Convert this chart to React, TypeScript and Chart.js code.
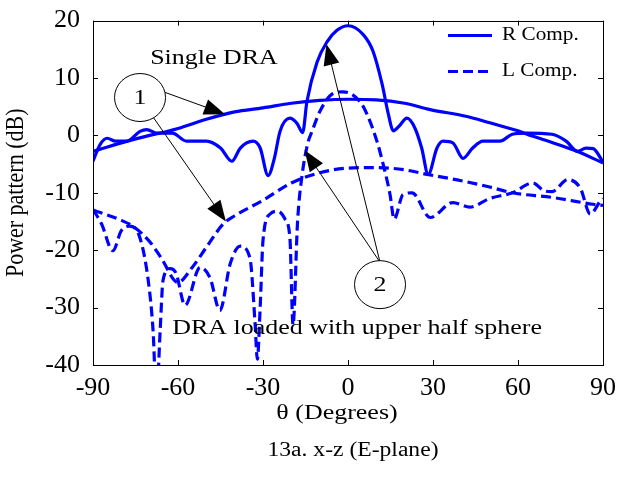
import React, { useEffect, useRef } from 'react';
import { Chart, registerables } from 'chart.js';

Chart.register(...registerables);

// ---- data ----
const xTickValues = [-90, -60, -30, 0, 30, 60, 90];
const yTickValues = [-40, -30, -20, -10, 0, 10, 20];

const singleRAngles = [-90, -80, -70, -64.6, -60, -50, -43.4, -40, -30, -20, -10, 0, 10, 20, 29, 42, 50, 60, 65, 70, 80, 90];
const singleRValues = [-2.8, -1.3, 0, 0.6, 1.2, 2.8, 3.7, 4.1, 4.8, 5.6, 6.1, 6.3, 6.2, 5.6, 4.5, 3.3, 2.2, 0.8, -0.1, -0.9, -2.6, -4.8];

const singleLAngles = [-90, -80, -76, -70, -66, -60, -55, -50, -44, -40, -30, -20, -10, 0, 10, 20, 28, 40, 50, 58, 72, 86.5, 90];
const singleLValues = [-13, -14.8, -15.8, -18.5, -21.3, -25.6, -23, -19.5, -15.4, -14, -11.3, -8.3, -6.5, -5.7, -5.6, -6, -6.8, -7.9, -9, -10, -10.8, -12, -12.2];

const loadedRAngles = [-90, -87.5, -85, -82, -78, -73.4, -71, -67.4, -62, -57, -50, -45, -41, -38, -33.5, -31, -28.2, -26, -24, -20.5, -18, -16, -14.5, -10.9, -7.4, -3.9, 0, 5.3, 8.8, 12, 14.2, 16, 18, 20.8, 23.6, 26, 28.3, 31.4, 33.5, 37, 40.6, 44, 47.6, 53.6, 58, 63, 72, 77, 81, 84, 86.5, 90];
const loadedRValues = [-4.5, -1.6, -0.5, -1, -1, 0.7, 1, 0.4, 0.4, -1, -1, -2.2, -4.5, -2.2, -1, -2.2, -7, -4, 0.7, 3, 2.1, 0.5, 5.9, 12.8, 16.3, 18.3, 19.1, 17.6, 14.7, 9, 3.8, 0.8, 1.6, 3, 1.3, -2.2, -6.8, -2.2, -1, -1.3, -4, -2.2, -1, -1, 0.2, 0.4, 0.2, -1, -2.8, -2.2, -2.3, -4.6];

const loadedLAngles = [-90, -87, -83, -80, -77, -73.4, -70.5, -68.8, -67.6, -66.3, -65.3, -62.8, -60.7, -57.5, -52.2, -48.7, -45.2, -41.6, -38, -34.6, -32.8, -32, -31, -30, -27.5, -24.7, -22.2, -20.5, -19.4, -17.8, -16.2, -14.1, -12.7, -9.9, -5.3, -1.8, 4.2, 6.7, 10.2, 12.4, 14.8, 16.3, 19.4, 22.6, 29, 37, 43, 50, 58, 65.3, 69, 72, 77.6, 82, 85.5, 89, 90];
const loadedLValues = [-12.9, -15.4, -20.1, -16.6, -15.8, -17.9, -25.3, -34, -46, -34, -25.3, -23.2, -24, -29.6, -23, -24.8, -30.5, -22.4, -19.3, -21.4, -32.7, -39, -30, -18.3, -13.7, -13.2, -14.6, -17.9, -33, -15, -6.9, -1.2, 0.7, 4.2, 7.3, 7.6, 5.9, 3.7, -1, -5, -10.2, -14.6, -10.3, -10, -14.3, -11.7, -12.5, -11, -10, -8.3, -9.6, -9.8, -7.7, -9.2, -13.7, -11.5, -11];

const legendLabels = ['R Comp.', 'L Comp.'];
const xTitle = 'θ (Degrees)';
const yTitle = 'Power pattern (dB)';
const caption = '13a. x-z (E-plane)';

// ---- annotations (anchored in data coordinates) ----
const noteTexts = [
  { text: 'Single DRA', x: -47.3, y: 13.4 },
  { text: 'DRA loaded with upper half sphere', x: 3.2, y: -33.6 },
];
const noteCircles = [
  { label: '1', x: -73.4, y: 6.6 },
  { label: '2', x: 11.3, y: -26 },
];
const noteArrows = [
  { x0: -64.6, y0: 7.5, x1: -43.4, y1: 3.7 },
  { x0: -68.8, y0: 3.2, x1: -43.1, y1: -15.0 },
  { x0: 11.3, y0: -22.1, x1: -7.6, y1: 15.9 },
  { x0: 11.3, y0: -22.1, x1: -15.3, y1: -2.6 },
];

const BLUE = '#0000FF';
const SERIF = '"Liberation Serif", "Times New Roman", serif';
const STRETCH = 1.18;

const toPoints = (xs: number[], ys: number[]) => xs.map((x, i) => ({ x, y: ys[i] }));

function stretchedText(ctx: CanvasRenderingContext2D, text: string, x: number, y: number, size: number, align: CanvasTextAlign, baseline: CanvasTextBaseline) {
  ctx.save();
  ctx.translate(x, y);
  ctx.scale(STRETCH, 1);
  ctx.font = `${size}px ${SERIF}`;
  ctx.fillStyle = '#000';
  ctx.textAlign = align;
  ctx.textBaseline = baseline;
  ctx.fillText(text, 0, 0);
  ctx.restore();
}

const decorPlugin = {
  id: 'decor',
  afterDatasetsDraw(chart: any) {
    const { ctx, chartArea: a, scales } = chart;
    const xs = scales.x;
    const ys = scales.y;
    ctx.save();
    // box
    ctx.strokeStyle = '#000';
    ctx.lineWidth = 1;
    ctx.strokeRect(Math.round(a.left) + 0.5, Math.round(a.top) + 0.5, Math.round(a.right - a.left), Math.round(a.bottom - a.top));
    // inward ticks
    const tl = 5;
    ctx.beginPath();
    xTickValues.forEach((v) => {
      const px = Math.round(xs.getPixelForValue(v)) + 0.5;
      ctx.moveTo(px, a.bottom);
      ctx.lineTo(px, a.bottom - tl);
      ctx.moveTo(px, a.top);
      ctx.lineTo(px, a.top + tl);
    });
    yTickValues.forEach((v) => {
      const py = Math.round(ys.getPixelForValue(v)) + 0.5;
      ctx.moveTo(a.left, py);
      ctx.lineTo(a.left + tl, py);
      ctx.moveTo(a.right, py);
      ctx.lineTo(a.right - tl, py);
    });
    ctx.stroke();

    // legend
    const lx0 = a.right - 155;
    const lx1 = a.right - 111;
    const ly = [a.top + 15, a.top + 51];
    ctx.strokeStyle = BLUE;
    ctx.lineWidth = 3;
    ctx.setLineDash([]);
    ctx.beginPath();
    ctx.moveTo(lx0, ly[0]);
    ctx.lineTo(lx1, ly[0]);
    ctx.stroke();
    ctx.setLineDash([10, 5]);
    ctx.beginPath();
    ctx.moveTo(lx0, ly[1]);
    ctx.lineTo(lx1, ly[1]);
    ctx.stroke();
    ctx.setLineDash([]);
    legendLabels.forEach((t, i) => stretchedText(ctx, t, a.right - 101, ly[i], 18, 'left', 'middle'));

    // annotation texts
    noteTexts.forEach((n) => stretchedText(ctx, n.text, xs.getPixelForValue(n.x), ys.getPixelForValue(n.y), 22, 'center', 'middle'));

    // arrows
    noteArrows.forEach((ar) => {
      const x0 = xs.getPixelForValue(ar.x0);
      const y0 = ys.getPixelForValue(ar.y0);
      const x1 = xs.getPixelForValue(ar.x1);
      const y1 = ys.getPixelForValue(ar.y1);
      const ang = Math.atan2(y1 - y0, x1 - x0);
      const len = 21;
      const hw = 8;
      ctx.strokeStyle = '#000';
      ctx.lineWidth = 1;
      ctx.beginPath();
      ctx.moveTo(x0, y0);
      ctx.lineTo(x1 - Math.cos(ang) * len * 0.8, y1 - Math.sin(ang) * len * 0.8);
      ctx.stroke();
      const bx = x1 - Math.cos(ang) * len;
      const by = y1 - Math.sin(ang) * len;
      ctx.fillStyle = '#000';
      ctx.beginPath();
      ctx.moveTo(x1, y1);
      ctx.lineTo(bx - Math.sin(ang) * hw, by + Math.cos(ang) * hw);
      ctx.lineTo(bx + Math.sin(ang) * hw, by - Math.cos(ang) * hw);
      ctx.closePath();
      ctx.fill();
    });

    // circles
    noteCircles.forEach((c) => {
      const cx = xs.getPixelForValue(c.x);
      const cy = ys.getPixelForValue(c.y);
      ctx.fillStyle = '#fff';
      ctx.strokeStyle = '#000';
      ctx.lineWidth = 1;
      ctx.beginPath();
      ctx.ellipse(cx, cy, 25.5, 24, 0, 0, Math.PI * 2);
      ctx.fill();
      ctx.stroke();
      stretchedText(ctx, c.label, cx, cy + 1, 22, 'center', 'middle');
    });

    // axis titles and caption
    const cxm = (a.left + a.right) / 2;
    stretchedText(ctx, xTitle, cxm - 11, a.bottom + 48, 22, 'center', 'middle');
    stretchedText(ctx, caption, cxm + 5, a.bottom + 86, 20, 'center', 'middle');
    ctx.save();
    ctx.translate(23, (a.top + a.bottom) / 2);
    ctx.rotate(-Math.PI / 2);
    ctx.scale(1, STRETCH);
    ctx.font = `22px ${SERIF}`;
    ctx.fillStyle = '#000';
    ctx.textAlign = 'center';
    ctx.textBaseline = 'alphabetic';
    ctx.fillText(yTitle, 0, 0);
    ctx.restore();

    ctx.restore();
  },
};

export default function App() {
  const canvasRef = useRef<HTMLCanvasElement>(null);

  useEffect(() => {
    document.body.style.margin = '0';
    const canvas = canvasRef.current;
    if (!canvas) return;
    const tickFont = { family: SERIF, size: 26 };
    const line = (data: any, dashed: boolean) => ({
      data,
      borderColor: BLUE,
      backgroundColor: BLUE,
      borderWidth: 3.2,
      borderDash: dashed ? [10, 5] : [],
      pointRadius: 0,
      fill: false,
      cubicInterpolationMode: 'monotone' as const,
    });
    const chart = new Chart(canvas, {
      type: 'line',
      data: {
        datasets: [
          { label: 'Single R', ...line(toPoints(singleRAngles, singleRValues), false) },
          { label: 'Single L', ...line(toPoints(singleLAngles, singleLValues), true) },
          { label: 'Loaded R', ...line(toPoints(loadedRAngles, loadedRValues), false) },
          { label: 'Loaded L', ...line(toPoints(loadedLAngles, loadedLValues), true) },
        ],
      },
      options: {
        responsive: false,
        animation: false,
        events: [],
        layout: { padding: { left: 0, right: 16, top: 18, bottom: 0 } },
        plugins: { legend: { display: false }, tooltip: { enabled: false }, title: { display: false } },
        scales: {
          x: {
            type: 'linear',
            min: -90,
            max: 90,
            grid: { display: false },
            border: { display: false },
            afterBuildTicks: (s: any) => { s.ticks = xTickValues.map((v) => ({ value: v })); },
            afterFit: (s: any) => { s.height = 118; },
            ticks: { font: tickFont, color: '#000', padding: 0, maxRotation: 0, autoSkip: false },
          },
          y: {
            type: 'linear',
            min: -40,
            max: 20,
            grid: { display: false },
            border: { display: false },
            afterBuildTicks: (s: any) => { s.ticks = yTickValues.map((v) => ({ value: v })); },
            afterFit: (s: any) => { s.width = 93; },
            ticks: { font: tickFont, color: '#000', padding: 5, autoSkip: false },
          },
        },
      },
      plugins: [decorPlugin],
    });
    return () => chart.destroy();
  }, []);

  return (
    <div style={{ width: 619, height: 483, position: 'relative', background: '#fff' }}>
      <canvas ref={canvasRef} width={619} height={483} style={{ display: 'block', width: 619, height: 483 }} />
    </div>
  );
}
